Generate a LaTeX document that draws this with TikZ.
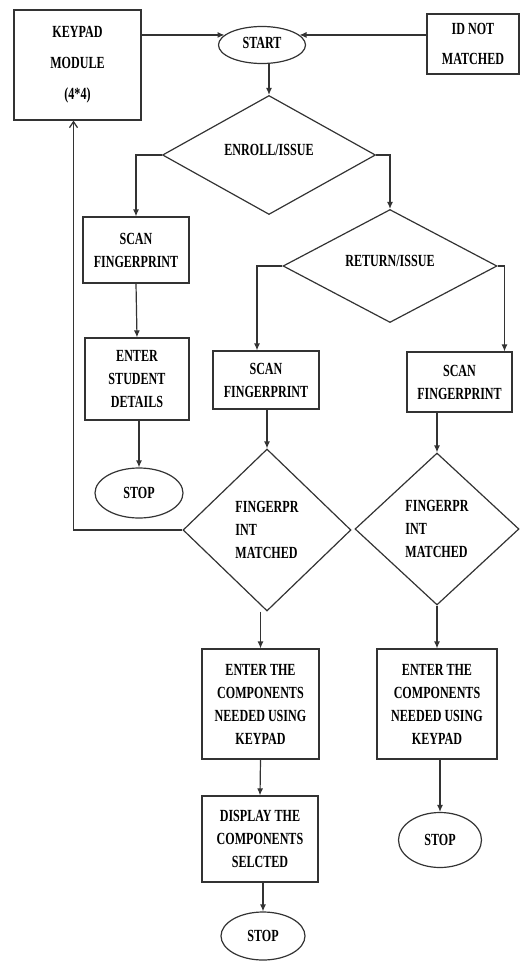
\documentclass[tikz,border=0pt]{standalone}
\usepackage{fontspec}
\newfontfamily\cf[FakeStretch=0.71]{Liberation Serif}
\usetikzlibrary{shapes.geometric,arrows.meta}
\begin{document}
\begin{tikzpicture}[x=1pt,y=-1pt,
  every node/.style={font=\cf\bfseries\fontsize{17}{23}\selectfont, align=center, inner sep=0pt, text=black},
  box/.style={draw=black!80, line width=1.2pt},
  dia/.style={draw=black!80, line width=1.2pt, diamond, aspect=1},
  oval/.style={draw=black!80, line width=1.2pt, ellipse},
  arr/.style={draw=black!80, line width=1.2pt, -{Latex[length=7pt,width=6pt]}},
  barb/.style={draw=black!80, line width=1.2pt, -{Straight Barb[length=6pt,width=8pt]}}]
\useasboundingbox (0,0) rectangle (520,961);
% nodes
\node[box, minimum width=127pt, minimum height=110pt] (keypad) at (77.5,65) {KEYPAD\\[8pt]MODULE\\[8pt](4*4)};
\node[oval, minimum width=87pt, minimum height=37pt] (start) at (262,45) {\raisebox{4pt}{START}};
\node[box, minimum width=92pt, minimum height=60pt] (id) at (473,44) {ID NOT\\[7pt]MATCHED};
\node[dia, minimum width=213pt, minimum height=119pt] (enroll) at (269,155) {\raisebox{10pt}{ENROLL/ISSUE}};
\node[box, minimum width=106pt, minimum height=66pt] (scan1) at (136,250) {SCAN\\FINGERPRINT};
\node[dia, minimum width=214pt, minimum height=113pt] (ret) at (390,266) {\raisebox{10pt}{RETURN/ISSUE}};
\node[box, minimum width=104pt, minimum height=82pt] (details) at (137,379) {ENTER\\STUDENT\\DETAILS};
\node[box, minimum width=106pt, minimum height=58pt] (scan2) at (266,380) {SCAN\\FINGERPRINT};
\node[box, minimum width=105pt, minimum height=60pt] (scan3) at (459.5,382) {SCAN\\FINGERPRINT};
\node[oval, minimum width=88pt, minimum height=50pt] (stop1) at (139,493) {STOP};
\node[dia, minimum width=168pt, minimum height=162pt, align=left] (fm1) at (267,530) {FINGERPR\\INT\\MATCHED};
\node[dia, minimum width=164pt, minimum height=152pt, align=left] (fm2) at (437,529) {FINGERPR\\INT\\MATCHED};
\node[box, minimum width=117pt, minimum height=110pt] (comp1) at (260.5,704) {ENTER THE\\COMPONENTS\\NEEDED USING\\KEYPAD};
\node[box, minimum width=120pt, minimum height=110pt] (comp2) at (437,704) {ENTER THE\\COMPONENTS\\NEEDED USING\\KEYPAD};
\node[box, minimum width=116pt, minimum height=86pt] (disp) at (260,839) {DISPLAY THE\\COMPONENTS\\SELCTED};
\node[oval, minimum width=84pt, minimum height=48pt] (stop2) at (263,936) {STOP};
\node[oval, minimum width=83pt, minimum height=55pt] (stop3) at (440,840) {STOP};
% connectors
\draw[arr] (keypad.east |- start.165) -- (start.165);
\draw[arr] (id.west |- start.15) -- (start.15);
\draw[arr] (enroll.north |- start.south) -- (enroll.north);
\draw[arr] (enroll.west) -| (scan1.north);
\draw[arr] (enroll.east) -| (ret.north);
\draw[arr] (ret.west) -| ([xshift=-9pt]scan2.north);
\draw[arr] (ret.east) -| ([xshift=45pt]scan3.north);
\draw[arr] (scan1.south) -- (details.north);
\draw[arr] (stop1.north |- details.south) -- (stop1.north);
\draw[arr] (fm1.north |- scan2.south) -- (fm1.north);
\draw[arr] (fm2.north |- scan3.south) -- (fm2.north);
\draw[barb] (fm1.west) -| ([xshift=-4pt]keypad.south);
\draw[arr] (comp1.north |- fm1.south) -- (comp1.north);
\draw[arr] (fm2.south) -- (comp2.north);
\draw[arr] (comp1.south) -- (disp.north);
\draw[arr] (stop2.north |- disp.south) -- (stop2.north);
\draw[arr] (stop3.north |- comp2.south) -- (stop3.north);
\end{tikzpicture}
\end{document}
